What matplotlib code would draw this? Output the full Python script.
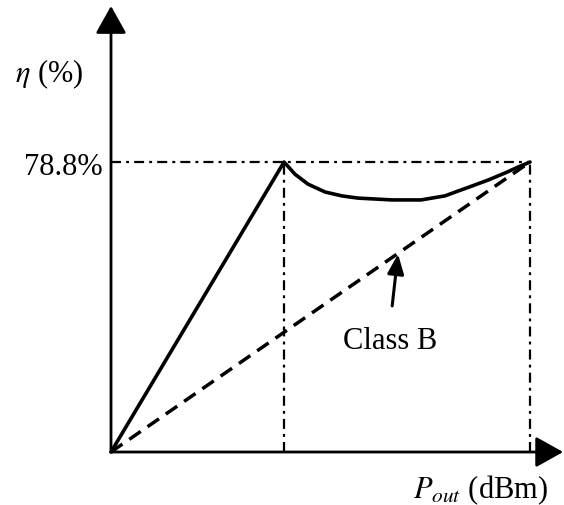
import matplotlib
matplotlib.use("Agg")
import matplotlib.pyplot as plt

plt.rcParams['font.family'] = ['Liberation Serif', 'DejaVu Serif']
plt.rcParams['mathtext.fontset'] = 'stix'

# efficiency curve (solid), x in arbitrary Pout units, y in %
eff_x = [0, 4.13, 4.39, 4.70, 5.11, 5.51, 5.89, 6.30, 6.71, 7.09, 7.40,
         7.66, 7.97, 8.28, 8.62, 9.00, 9.40, 9.71, 10]
eff_y = [0, 78.8, 75.5, 72.8, 70.65, 69.6, 69.0, 68.75, 68.5, 68.5, 68.5,
         69.0, 69.6, 70.9, 72.3, 73.9, 75.8, 77.4, 78.8]

# class B line (dashed)
classb_x = [0, 10]
classb_y = [0, 78.8]

peak_eff = 78.8
peak_x = 4.13
end_x = 10

fig = plt.figure(figsize=(5.64, 5.06), dpi=100)
ax = fig.add_axes([0, 0, 1, 1])
ax.set_xlim(-2.649, 10.811)
ax.set_ylim(-14.40, 123.1)
ax.axis('off')

# axes with arrows
ax.annotate("", xy=(10.79, 0), xytext=(0, 0),
            arrowprops=dict(arrowstyle="-|>,head_length=17,head_width=9.5",
                            mutation_scale=1, lw=2.0, color='black',
                            shrinkA=0, shrinkB=0))
ax.annotate("", xy=(0, 121.2), xytext=(0, 0),
            arrowprops=dict(arrowstyle="-|>,head_length=17,head_width=9.5",
                            mutation_scale=1, lw=2.0, color='black',
                            shrinkA=0, shrinkB=0))

# guide lines
dd = (0, (4.5, 2.3, 1.3, 2.3))
ax.plot([0, end_x], [peak_eff, peak_eff], color='black', lw=1.6, ls=dd, zorder=1)
ax.plot([peak_x, peak_x], [0, peak_eff], color='black', lw=1.6, ls=dd, zorder=1)
ax.plot([end_x, end_x], [0, peak_eff], color='black', lw=1.6, ls=dd, zorder=1)

ax.plot(classb_x, classb_y, color='black', lw=2.5, dashes=[4.0, 2.4], zorder=2)
ax.plot(eff_x, eff_y, color='black', lw=2.6, zorder=3,
        solid_joinstyle='round', solid_capstyle='round')

ax.annotate("", xy=(6.85, 53.8), xytext=(6.71, 39.7),
            arrowprops=dict(arrowstyle="-|>,head_length=12,head_width=5",
                            mutation_scale=1, lw=2.2, color='black',
                            shrinkA=0, shrinkB=0))
ax.text(6.66, 28.3, "Class B", ha='center', va='baseline', fontsize=22)

ax.text(-2.29, 100.8, r"$\eta$ (%)", ha='left', va='baseline', fontsize=22)
ax.text(-0.19, 75.5, "78.8%", ha='right', va='baseline', fontsize=22)
ax.text(7.21, -12.2, r"$P_{out}$ (dBm)", ha='left', va='baseline', fontsize=22)

fig.savefig("out.png", dpi=100)
